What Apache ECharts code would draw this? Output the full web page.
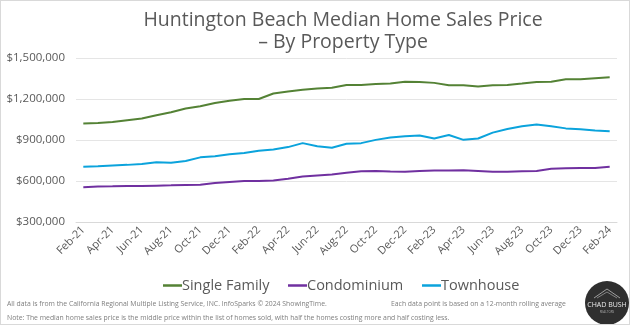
<!DOCTYPE html>
<html><head><meta charset="utf-8">
<script src="https://cdn.jsdelivr.net/npm/echarts@6/dist/echarts.min.js"></script>
<style>html,body{margin:0;padding:0;background:#fff;}#c{width:630px;height:325px;box-sizing:border-box;border:1px solid #d9d9d9;}</style>
</head><body><div id="c"></div>
<script>
var months = ["Feb-21","Mar-21","Apr-21","May-21","Jun-21","Jul-21","Aug-21","Sep-21","Oct-21","Nov-21","Dec-21","Jan-22",
"Feb-22","Mar-22","Apr-22","May-22","Jun-22","Jul-22","Aug-22","Sep-22","Oct-22","Nov-22","Dec-22","Jan-23",
"Feb-23","Mar-23","Apr-23","May-23","Jun-23","Jul-23","Aug-23","Sep-23","Oct-23","Nov-23","Dec-23","Jan-24","Feb-24"];
var singleFamily = [1021000,1024000,1031000,1045000,1058000,1081000,1103000,1130000,1147000,1171000,1188000,1200000,
1200000,1240000,1255000,1267000,1277000,1282000,1303000,1303000,1310000,1313000,1327000,1325000,
1318000,1301000,1301000,1291000,1301000,1303000,1313000,1325000,1327000,1345000,1345000,1352000,1359000];
var condominium = [554000,559000,561000,564000,564000,566000,568000,571000,573000,586000,593000,600000,
600000,604000,617000,633000,641000,648000,660000,672000,674000,669000,667000,674000,
676000,676000,679000,674000,667000,667000,672000,674000,689000,694000,696000,696000,705000];
var townhouse = [705000,708000,713000,718000,725000,737000,734000,747000,773000,781000,795000,805000,
821000,831000,848000,877000,855000,843000,872000,877000,901000,918000,927000,933000,
911000,937000,901000,911000,954000,980000,1000000,1014000,1000000,985000,978000,969000,964000];
var yTicks = {min:300000, max:1500000, step:300000};
var seriesNames = ["Single Family","Condominium","Townhouse"];
var footer1 = "All data is from the California Regional Multiple Listing Service, INC. InfoSparks \u00A9 2024 ShowingTime.";
var footer2 = "Each data point is based on a 12-month rolling average";
var footer3 = "Note: The median home sales price is the middle price within the list of homes sold, with half the homes costing more and half costing less.";

var chart = echarts.init(document.getElementById('c'));
var gray = '#595959';
var mk = function(name, data, color){
  return {name:name, type:'line', data:data, symbol:'none', smooth:false,
    lineStyle:{width:2, color:color}, itemStyle:{color:color}};
};
var legendLefts = [157, 282, 416];
var legends = seriesNames.map(function(n, i){
  return {data:[n], top:272, left:legendLefts[i], icon:'rect', itemWidth:19, itemHeight:2.5,
    textStyle:{fontFamily:'Open Sans', fontSize:14.5, color:gray, padding:[0,0,0,-5]}};
});
chart.setOption({
  animation:false,
  title:{text:'Huntington Beach Median Home Sales Price\n\u2013 By Property Type', left:337, textAlign:'center', top:3,
    textStyle:{fontFamily:'Open Sans', fontWeight:'normal', fontSize:19.5, color:gray, lineHeight:22}},
  grid:{left:75, right:12, top:57, bottom:102},
  legend:legends,
  xAxis:{type:'category', data:months, boundaryGap:true,
    axisLine:{lineStyle:{color:'#d9d9d9'}}, axisTick:{show:false},
    axisLabel:{interval:1, rotate:45, color:gray, fontFamily:'Open Sans', fontSize:11, margin:6}},
  yAxis:{type:'value', min:yTicks.min, max:yTicks.max, interval:yTicks.step,
    axisLine:{show:false}, axisTick:{show:false},
    splitLine:{lineStyle:{color:'#e5e5e5'}},
    axisLabel:{color:gray, fontFamily:'Open Sans', fontSize:11.5, margin:11,
      formatter:function(v){return '$'+v.toLocaleString('en-US');}}},
  series:[mk(seriesNames[0], singleFamily, '#548235'), mk(seriesNames[1], condominium, '#7030A0'), mk(seriesNames[2], townhouse, '#0BA3DC')],
  graphic:[
    {type:'text', left:6, top:300, style:{text:footer1, fill:'#7f7f7f', font:'6.85px "Open Sans"'}},
    {type:'text', left:390, top:300, style:{text:footer2, fill:'#7f7f7f', font:'6.85px "Open Sans"'}},
    {type:'text', left:6, top:314, style:{text:footer3, fill:'#7f7f7f', font:'6.85px "Open Sans"'}},
    {type:'group', left:584, top:280, children:[
      {type:'circle', shape:{cx:22, cy:22, r:22}, style:{fill:'#2f2f2f'}},
      {type:'polyline', shape:{points:[[9,17],[22,8],[35,17]]}, style:{stroke:'#bbb', lineWidth:0.8, fill:null}},
      {type:'polyline', shape:{points:[[12,17],[22,11],[32,17]]}, style:{stroke:'#bbb', lineWidth:0.6, fill:null}},
      {type:'text', style:{text:'CHAD BUSH', x:22, y:24, fill:'#e8e8e8', font:'7px "Open Sans"', align:'center', verticalAlign:'middle'}},
      {type:'text', style:{text:'REALTORS', x:22, y:31, fill:'#aaa', font:'3px "Open Sans"', align:'center', verticalAlign:'middle'}}
    ]}
  ]
});
</script></body></html>
